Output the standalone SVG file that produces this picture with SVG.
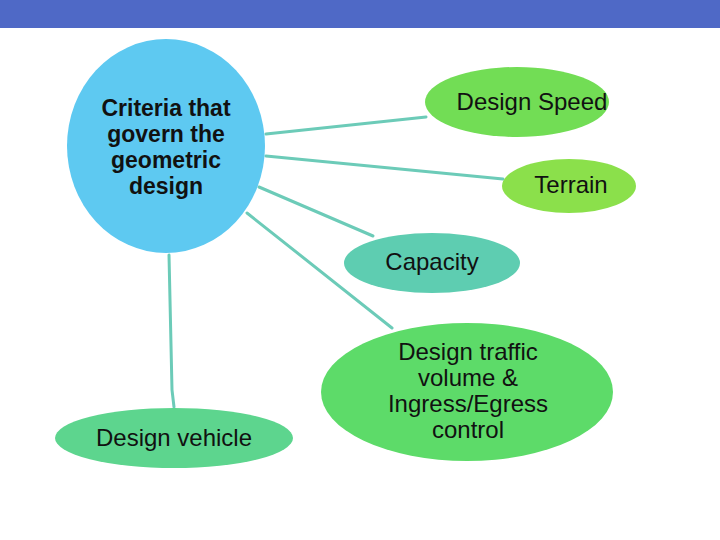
<svg xmlns="http://www.w3.org/2000/svg" width="720" height="540" viewBox="0 0 720 540">
<style>
.t{font-family:"Liberation Sans",Arial,sans-serif;font-size:24px;fill:#111;text-anchor:middle}
.b{font-weight:bold;font-size:23px}
.c{stroke:#6ccbb8;stroke-width:3;fill:none;stroke-linecap:round}
</style>
<rect x="0" y="0" width="720" height="540" fill="#fff"/>
<rect x="0" y="0" width="720" height="28" fill="#4f69c6"/>
<g id="connectors">
<line class="c" x1="266" y1="134" x2="426" y2="117"/>
<line class="c" x1="266" y1="156" x2="503" y2="179"/>
<line class="c" x1="259" y1="187" x2="373" y2="236"/>
<line class="c" x1="247" y1="213" x2="392" y2="328"/>
<polyline class="c" points="169,255 172,390 174,407"/>
</g>
<g id="criteria">
<ellipse cx="166" cy="146" rx="99" ry="107" fill="#5ec9f1"/>
<text class="t b" x="166" y="116">Criteria that</text>
<text class="t b" x="166" y="142">govern the</text>
<text class="t b" x="166" y="168">geometric</text>
<text class="t b" x="166" y="194">design</text>
</g>
<g id="speed">
<ellipse cx="517" cy="102" rx="92" ry="35" fill="#72dd55"/>
<text class="t" x="532" y="110">Design Speed</text>
</g>
<g id="terrain">
<ellipse cx="569" cy="186" rx="67" ry="27" fill="#8be04b"/>
<text class="t" x="571" y="193">Terrain</text>
</g>
<g id="capacity">
<ellipse cx="432" cy="263" rx="88" ry="30" fill="#5ecdb1"/>
<text class="t" x="432" y="270">Capacity</text>
</g>
<g id="traffic">
<ellipse cx="467" cy="392" rx="146" ry="69" fill="#5ddb69"/>
<text class="t" x="468" y="360">Design traffic</text>
<text class="t" x="468" y="386">volume &amp;</text>
<text class="t" x="468" y="412">Ingress/Egress</text>
<text class="t" x="468" y="438">control</text>
</g>
<g id="vehicle">
<ellipse cx="174" cy="438" rx="119" ry="30" fill="#5dd58e"/>
<text class="t" x="174" y="446">Design vehicle</text>
</g>
</svg>
